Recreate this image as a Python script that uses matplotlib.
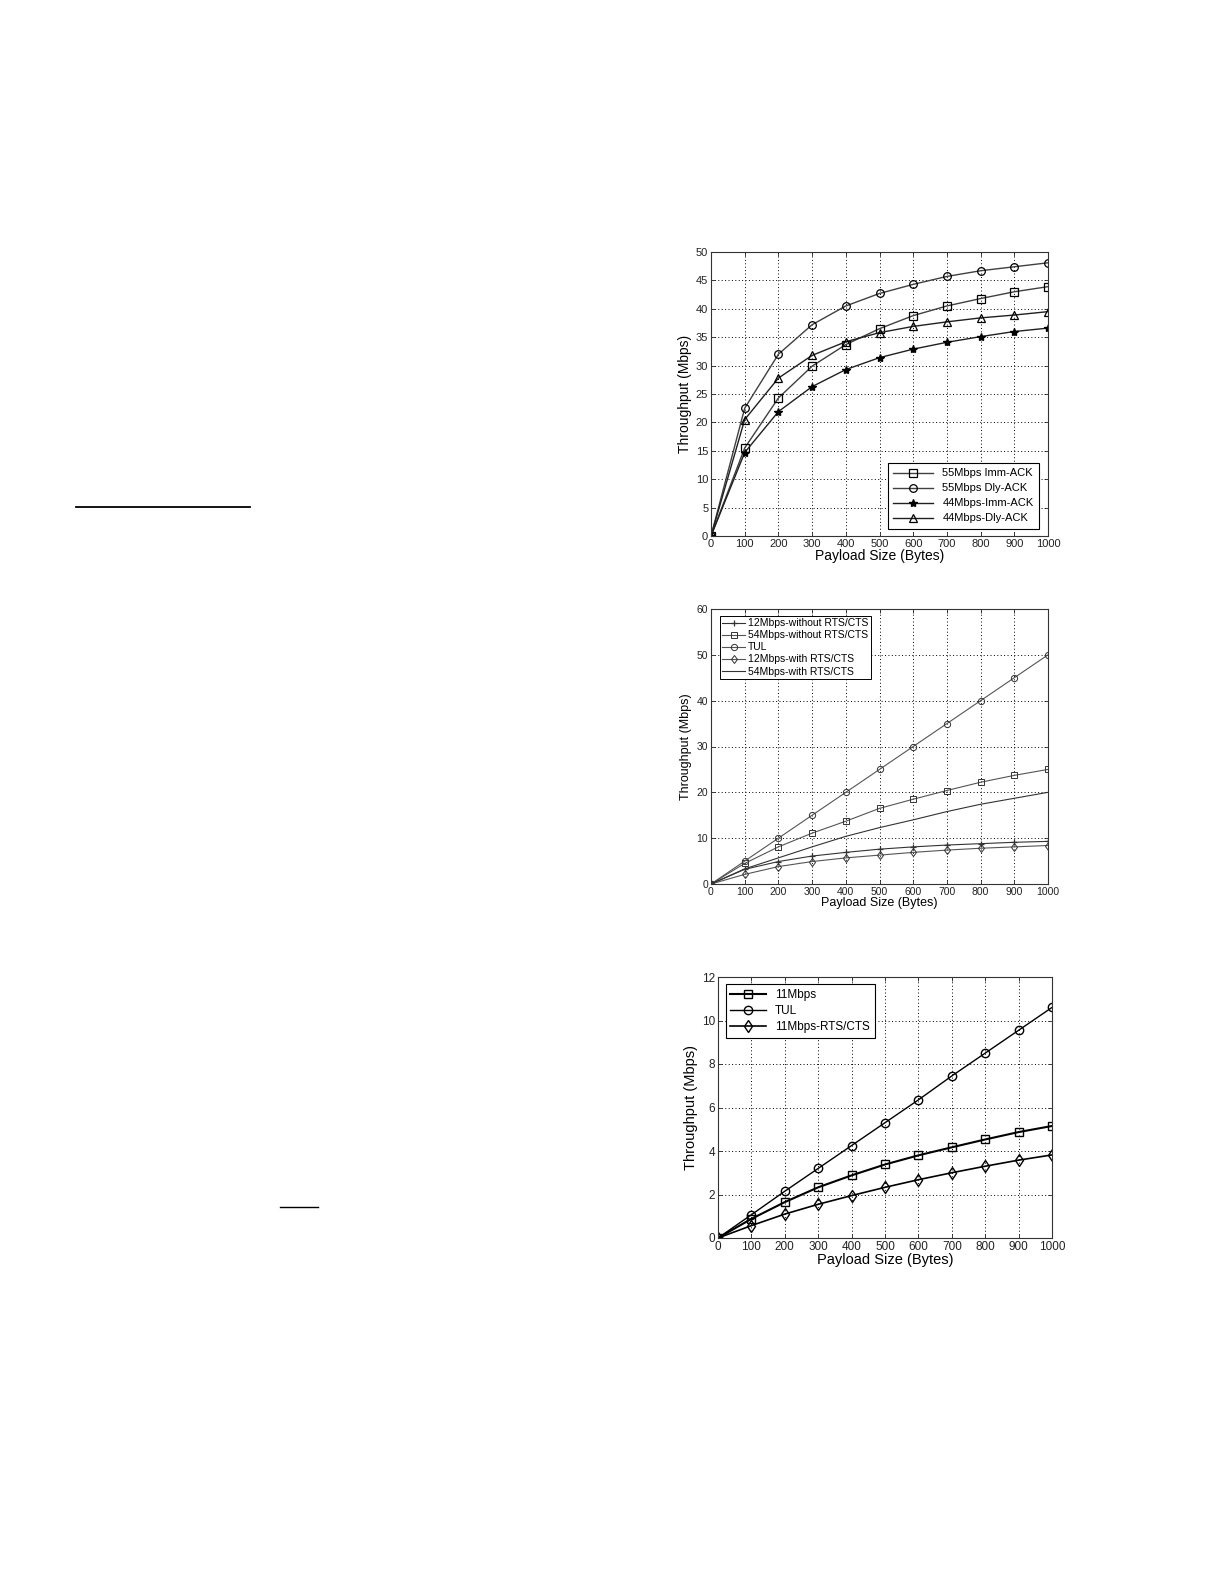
import matplotlib
matplotlib.use("Agg")
import matplotlib.pyplot as plt
from matplotlib.lines import Line2D

plt.rcParams['font.family'] = ['Liberation Sans', 'DejaVu Sans']

payload = [0, 100, 200, 300, 400, 500, 600, 700, 800, 900, 1000]
xticks = [0, 100, 200, 300, 400, 500, 600, 700, 800, 900, 1000]

# Chart 1
c1_labels = ["55Mbps Imm-ACK", "55Mbps Dly-ACK", "44Mbps-Imm-ACK", "44Mbps-Dly-ACK"]
c1_imm55 = [0, 15.5, 24.3, 29.9, 33.7, 36.5, 38.8, 40.5, 41.8, 43.0, 43.9]
c1_dly55 = [0, 22.5, 32.0, 37.2, 40.5, 42.7, 44.3, 45.7, 46.7, 47.4, 48.1]
c1_imm44 = [0, 14.7, 21.9, 26.3, 29.3, 31.4, 32.9, 34.1, 35.1, 36.0, 36.6]
c1_dly44 = [0, 20.5, 27.8, 31.8, 34.2, 35.8, 36.9, 37.7, 38.4, 38.9, 39.5]
c1_yticks = [0, 5, 10, 15, 20, 25, 30, 35, 40, 45, 50]

# Chart 2
c2_labels = ["12Mbps-without RTS/CTS", "54Mbps-without RTS/CTS", "TUL",
             "12Mbps-with RTS/CTS", "54Mbps-with RTS/CTS"]
c2_12wo = [0, 3.2, 4.9, 6.1, 6.9, 7.6, 8.1, 8.5, 8.8, 9.1, 9.3]
c2_54wo = [0, 4.5, 8.1, 11.1, 13.7, 16.5, 18.5, 20.4, 22.2, 23.7, 25.0]
c2_tul = [0, 5, 10, 15, 20, 25, 30, 35, 40, 45, 50]
c2_12w = [0, 2.1, 3.8, 4.9, 5.7, 6.3, 6.9, 7.4, 7.8, 8.1, 8.4]
c2_54w = [0, 3.3, 5.7, 8.1, 10.4, 12.3, 14.0, 15.8, 17.4, 18.7, 20.0]
c2_yticks = [0, 10, 20, 30, 40, 50, 60]

# Chart 3
c3_labels = ["11Mbps", "TUL", "11Mbps-RTS/CTS"]
c3_11 = [0, 0.88, 1.65, 2.33, 2.88, 3.38, 3.8, 4.17, 4.53, 4.87, 5.15]
c3_tul = [0, 1.07, 2.15, 3.2, 4.25, 5.3, 6.35, 7.45, 8.5, 9.55, 10.6]
c3_rts = [0, 0.57, 1.1, 1.55, 1.95, 2.33, 2.68, 3.0, 3.3, 3.58, 3.82]
c3_yticks = [0, 2, 4, 6, 8, 10, 12]

xlabel = "Payload Size (Bytes)"
ylabel = "Throughput (Mbps)"

W, H = 1225, 1585
fig = plt.figure(figsize=(W / 100, H / 100), dpi=100)


def px_axes(l, t, r, b):
    return fig.add_axes([l / W, 1 - b / H, (r - l) / W, (b - t) / H])


def style(ax, yticks, fs_tick, fs_lab):
    ax.set_xlim(0, 1000)
    ax.set_ylim(yticks[0], yticks[-1])
    ax.set_xticks(xticks)
    ax.set_yticks(yticks)
    ax.grid(True, linestyle=(0, (1, 2.5)), color='black', linewidth=0.7)
    ax.tick_params(direction='in', top=True, right=True, length=3,
                   labelsize=fs_tick, pad=2, width=0.6, colors='#222222')
    for s in ax.spines.values():
        s.set_linewidth(0.8)
        s.set_color('#333333')
    ax.set_xlabel(xlabel, fontsize=fs_lab, labelpad=0)
    ax.set_ylabel(ylabel, fontsize=fs_lab, labelpad=3)


# ---- Chart 1
ax1 = px_axes(711, 252, 1048, 536)
mk = dict(markerfacecolor='none', markeredgecolor='black', markersize=5.5, markeredgewidth=0.9)
ax1.plot(payload, c1_imm55, '-s', color='#404040', lw=1.0, label=c1_labels[0], **mk)
ax1.plot(payload, c1_dly55, '-o', color='#404040', lw=1.0, label=c1_labels[1], **mk)
ax1.plot(payload, c1_imm44, '-*', color='#202020', lw=1.0, label=c1_labels[2],
         markerfacecolor='black', markeredgecolor='black', markersize=6)
ax1.plot(payload, c1_dly44, '-^', color='#202020', lw=1.0, label=c1_labels[3], **mk)
style(ax1, c1_yticks, 8, 10)
leg1 = ax1.legend(loc='lower right', fontsize=8, fancybox=False, framealpha=1,
                  edgecolor='black', borderpad=0.5, labelspacing=0.45,
                  handlelength=3.6, bbox_to_anchor=(0.99, 0.005))
leg1.get_frame().set_linewidth(0.8)

# ---- Chart 2
ax2 = px_axes(711, 609, 1048, 884)
mk2 = dict(markerfacecolor='none', markeredgecolor='#333333', markersize=4.5, markeredgewidth=0.7)
ax2.plot(payload, c2_12wo, '-+', color='#333333', lw=0.8, label=c2_labels[0],
         markersize=5, markeredgewidth=0.9)
ax2.plot(payload, c2_54wo, '-s', color='#555555', lw=0.8, label=c2_labels[1], **mk2)
ax2.plot(payload, c2_tul, '-o', color='#555555', lw=0.8, label=c2_labels[2], **mk2)
ax2.plot(payload, c2_12w, '-d', color='#555555', lw=0.8, label=c2_labels[3], **mk2)
ax2.plot(payload, c2_54w, '-.', color='#333333', lw=0.8, label=c2_labels[4],
         linestyle='-', markersize=3)
style(ax2, c2_yticks, 7.5, 9)
leg2 = ax2.legend(loc='upper left', fontsize=7.5, fancybox=False, framealpha=1,
                  edgecolor='black', borderpad=0.25, labelspacing=0.2,
                  handlelength=2.2, handletextpad=0.3, bbox_to_anchor=(0.01, 0.995))
leg2.get_frame().set_linewidth(0.7)

# ---- Chart 3
ax3 = px_axes(718, 977, 1052, 1238)
mk3 = dict(markerfacecolor='none', markeredgecolor='black', markersize=6, markeredgewidth=1.0)
ax3.plot(payload, c3_11, '-s', color='black', lw=1.5, label=c3_labels[0], **mk3)
ax3.plot(payload, c3_tul, '-o', color='black', lw=1.0, label=c3_labels[1], **mk3)
ax3.plot(payload, c3_rts, '-d', color='black', lw=1.2, label=c3_labels[2], **mk3)
style(ax3, c3_yticks, 8.5, 10.5)
leg3 = ax3.legend(loc='upper left', fontsize=8.5, fancybox=False, framealpha=1,
                  edgecolor='black', borderpad=0.4, labelspacing=0.35,
                  handlelength=3.0, bbox_to_anchor=(0.005, 0.995))
leg3.get_frame().set_linewidth(0.8)

# stray page rules
fig.add_artist(Line2D([76 / W, 250 / W], [1 - 507 / H, 1 - 507 / H],
                      color='black', lw=1.3, transform=fig.transFigure))
fig.add_artist(Line2D([280 / W, 318 / W], [1 - 1207 / H, 1 - 1207 / H],
                      color='black', lw=1.0, transform=fig.transFigure))

fig.savefig("out.png", dpi=100, facecolor='white')
